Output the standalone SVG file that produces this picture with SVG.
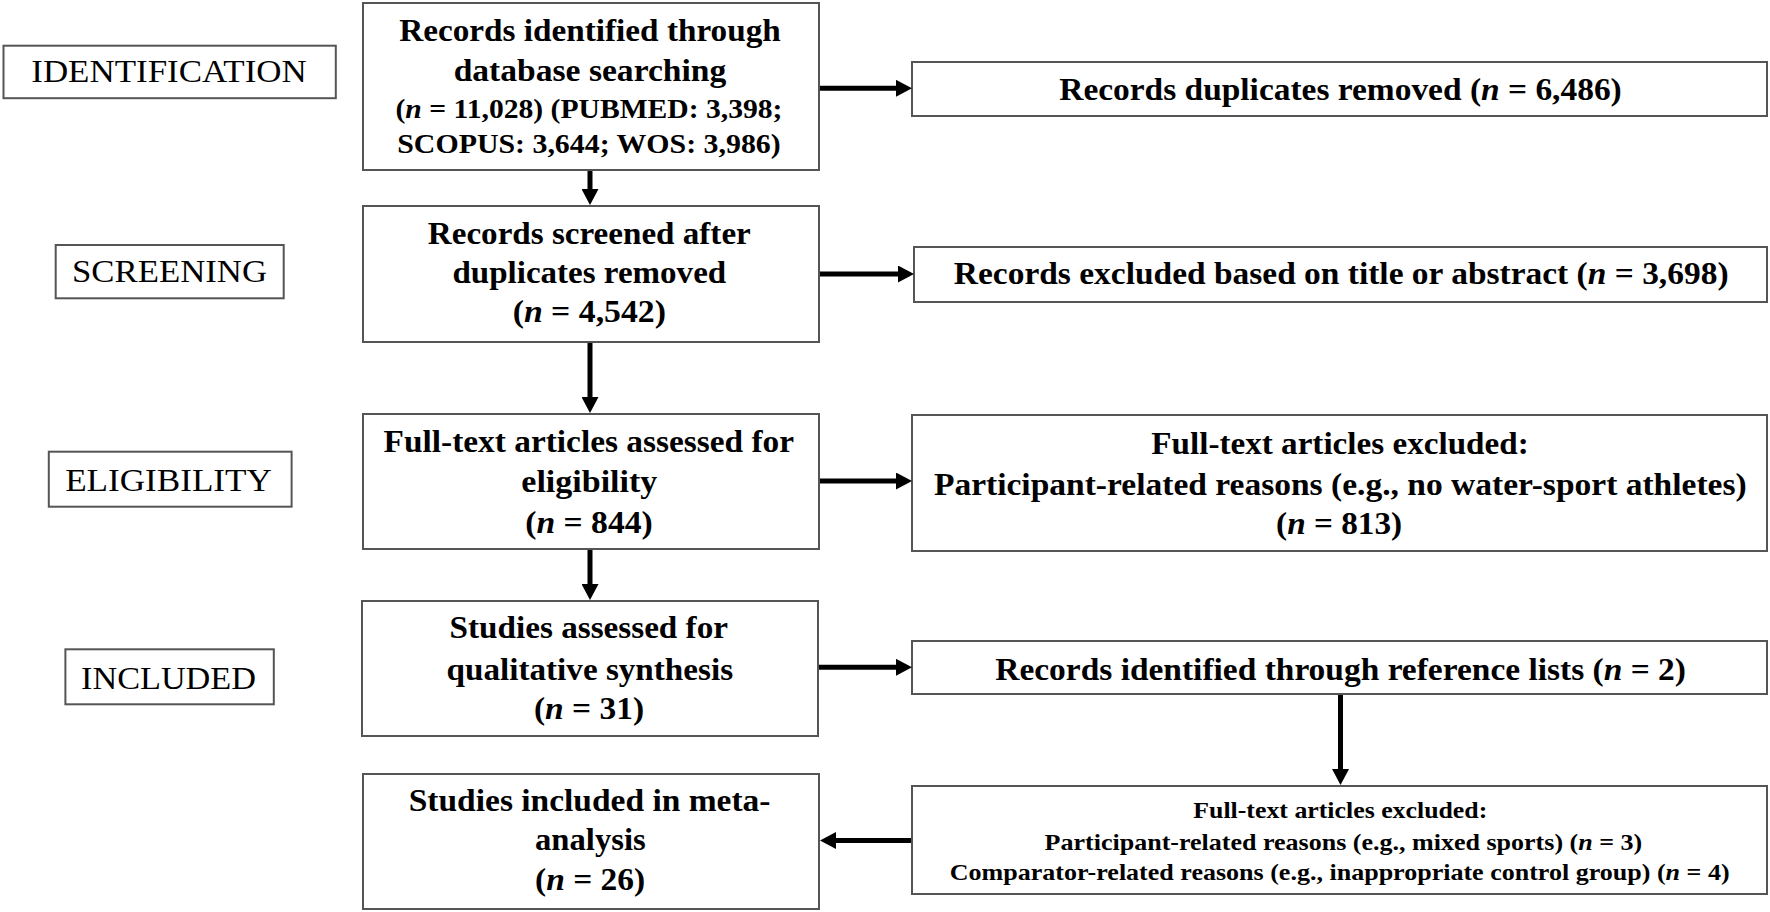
<svg xmlns="http://www.w3.org/2000/svg" width="1770" height="912" viewBox="0 0 1770 912">
<style>
  .box { fill: #ffffff; stroke: #555555; stroke-width: 2; }
  .t { font-family: "Liberation Serif", "Times New Roman", serif; font-weight: bold; fill: #000000; text-anchor: middle; }
  .m { font-size: 31px; }
  .s { font-size: 27px; }
  .x { font-size: 23.5px; }
  .st { font-family: "Liberation Serif", "Times New Roman", serif; font-weight: normal; font-size: 32px; fill: #000000; text-anchor: middle; }
  .i { font-style: italic; }
  .arr { stroke: #000000; stroke-width: 5; fill: none; marker-end: url(#ah); }
</style>
<defs>
  <marker id="ah" markerUnits="userSpaceOnUse" markerWidth="17" markerHeight="17" refX="3" refY="8.5" orient="auto">
    <path d="M0,0 L16,8.5 L0,17 z" fill="#000000"/>
  </marker>
</defs>
<rect width="1770" height="912" fill="#ffffff"/>

<g id="stage-identification">
  <rect class="box" x="3.5" y="45.7" width="332.3" height="52.5"/>
  <text class="st" x="169" y="82" textLength="275.5" lengthAdjust="spacingAndGlyphs">IDENTIFICATION</text>
</g>
<g id="stage-screening">
  <rect class="box" x="55.7" y="245" width="228" height="53.3"/>
  <text class="st" x="169.5" y="281.5" textLength="195" lengthAdjust="spacingAndGlyphs">SCREENING</text>
</g>
<g id="stage-eligibility">
  <rect class="box" x="48.8" y="451.7" width="242.8" height="55"/>
  <text class="st" x="168.5" y="490.5" textLength="206.7" lengthAdjust="spacingAndGlyphs">ELIGIBILITY</text>
</g>
<g id="stage-included">
  <rect class="box" x="65.4" y="649.3" width="208.4" height="55"/>
  <text class="st" x="168.5" y="688.5" textLength="175" lengthAdjust="spacingAndGlyphs">INCLUDED</text>
</g>

<g id="box-identified">
  <rect class="box" x="363" y="3" width="456" height="167"/>
  <text class="t m" x="590" y="40.5" textLength="381.7" lengthAdjust="spacingAndGlyphs">Records identified through</text>
  <text class="t m" x="590" y="81" textLength="272.7" lengthAdjust="spacingAndGlyphs">database searching</text>
  <text class="t s" x="589" y="117.5" textLength="387" lengthAdjust="spacingAndGlyphs">(<tspan class="i">n</tspan> = 11,028) (PUBMED: 3,398;</text>
  <text class="t s" x="589" y="153" textLength="383.5" lengthAdjust="spacingAndGlyphs">SCOPUS: 3,644; WOS: 3,986)</text>
</g>
<g id="box-screened">
  <rect class="box" x="363" y="206" width="456" height="136"/>
  <text class="t m" x="589.3" y="243.5" textLength="323" lengthAdjust="spacingAndGlyphs">Records screened after</text>
  <text class="t m" x="589.3" y="283" textLength="273.8" lengthAdjust="spacingAndGlyphs">duplicates removed</text>
  <text class="t m" x="589.3" y="322" textLength="153.3" lengthAdjust="spacingAndGlyphs">(<tspan class="i">n</tspan> = 4,542)</text>
</g>
<g id="box-fulltext">
  <rect class="box" x="363" y="414" width="456" height="135"/>
  <text class="t m" x="588.8" y="452" textLength="410.5" lengthAdjust="spacingAndGlyphs">Full-text articles assessed for</text>
  <text class="t m" x="589.3" y="492" textLength="136" lengthAdjust="spacingAndGlyphs">eligibility</text>
  <text class="t m" x="589" y="533.3" textLength="127.4" lengthAdjust="spacingAndGlyphs">(<tspan class="i">n</tspan> = 844)</text>
</g>
<g id="box-qualitative">
  <rect class="box" x="362" y="601" width="456" height="135"/>
  <text class="t m" x="588.8" y="637.5" textLength="278.4" lengthAdjust="spacingAndGlyphs">Studies assessed for</text>
  <text class="t m" x="589.8" y="679.5" textLength="286.5" lengthAdjust="spacingAndGlyphs">qualitative synthesis</text>
  <text class="t m" x="589" y="718.5" textLength="110.2" lengthAdjust="spacingAndGlyphs">(<tspan class="i">n</tspan> = 31)</text>
</g>
<g id="box-meta">
  <rect class="box" x="363" y="774" width="456" height="135"/>
  <text class="t m" x="589.6" y="811" textLength="361.7" lengthAdjust="spacingAndGlyphs">Studies included in meta-</text>
  <text class="t m" x="590.4" y="850.3" textLength="110.8" lengthAdjust="spacingAndGlyphs">analysis</text>
  <text class="t m" x="590.1" y="890.3" textLength="110.2" lengthAdjust="spacingAndGlyphs">(<tspan class="i">n</tspan> = 26)</text>
</g>

<g id="box-duplicates">
  <rect class="box" x="912" y="62" width="855" height="54"/>
  <text class="t m" x="1340.5" y="99.5" textLength="562.5" lengthAdjust="spacingAndGlyphs">Records duplicates removed (<tspan class="i">n</tspan> = 6,486)</text>
</g>
<g id="box-excluded-title">
  <rect class="box" x="914" y="247" width="853" height="55"/>
  <text class="t m" x="1341.2" y="283.5" textLength="774.7" lengthAdjust="spacingAndGlyphs">Records excluded based on title or abstract (<tspan class="i">n</tspan> = 3,698)</text>
</g>
<g id="box-excluded-fulltext">
  <rect class="box" x="912" y="415" width="855" height="136"/>
  <text class="t m" x="1340" y="453.5" textLength="377.4" lengthAdjust="spacingAndGlyphs">Full-text articles excluded:</text>
  <text class="t m" x="1340.3" y="495" textLength="812.7" lengthAdjust="spacingAndGlyphs">Participant-related reasons (e.g., no water-sport athletes)</text>
  <text class="t m" x="1339.1" y="533.5" textLength="126" lengthAdjust="spacingAndGlyphs">(<tspan class="i">n</tspan> = 813)</text>
</g>
<g id="box-reference-lists">
  <rect class="box" x="912" y="641" width="855" height="53"/>
  <text class="t m" x="1340.6" y="680" textLength="690.7" lengthAdjust="spacingAndGlyphs">Records identified through reference lists (<tspan class="i">n</tspan> = 2)</text>
</g>
<g id="box-excluded-meta">
  <rect class="box" x="912" y="786" width="855" height="108"/>
  <text class="t x" x="1340.3" y="817.5" textLength="294" lengthAdjust="spacingAndGlyphs">Full-text articles excluded:</text>
  <text class="t x" x="1343.4" y="849.5" textLength="597.6" lengthAdjust="spacingAndGlyphs">Participant-related reasons (e.g., mixed sports) (<tspan class="i">n</tspan> = 3)</text>
  <text class="t x" x="1339.7" y="880.3" textLength="779.8" lengthAdjust="spacingAndGlyphs">Comparator-related reasons (e.g., inappropriate control group) (<tspan class="i">n</tspan> = 4)</text>
</g>

<g id="connectors">
  <line class="arr" x1="820" y1="88.3" x2="899" y2="88.3"/>
  <line class="arr" x1="590" y1="171" x2="590" y2="192"/>
  <line class="arr" x1="820" y1="274" x2="901" y2="274"/>
  <line class="arr" x1="590" y1="343" x2="590" y2="400"/>
  <line class="arr" x1="820" y1="481" x2="899" y2="481"/>
  <line class="arr" x1="590" y1="550" x2="590" y2="587"/>
  <line class="arr" x1="819" y1="667.3" x2="899" y2="667.3"/>
  <line class="arr" x1="1340.5" y1="695" x2="1340.5" y2="772"/>
  <line class="arr" x1="911" y1="840.5" x2="833" y2="840.5"/>
</g>
</svg>
